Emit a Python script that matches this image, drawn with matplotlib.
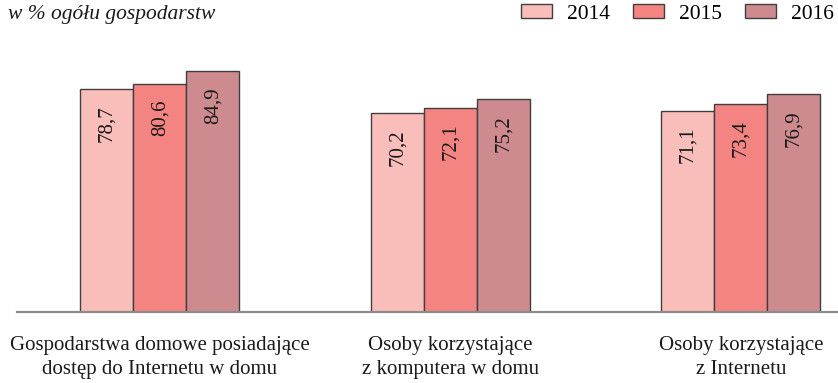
import matplotlib
matplotlib.use("Agg")
import matplotlib.pyplot as plt
import numpy as np

categories = ["Gospodarstwa domowe posiadające\ndostęp do Internetu w domu",
              "Osoby korzystające\nz komputera w domu",
              "Osoby korzystające\nz Internetu"]
years = ["2014", "2015", "2016"]
values = {
    "2014": [78.7, 70.2, 71.1],
    "2015": [80.6, 72.1, 73.4],
    "2016": [84.9, 75.2, 76.9],
}
colors = ["#F9BEB9", "#F38481", "#CD8B8F"]

plt.rcParams["font.family"] = ["Liberation Serif", "DejaVu Serif"]

fig = plt.figure(figsize=(8.38, 3.83), dpi=100)
ax = fig.add_axes([17 / 838, 71 / 383, 1 - 17 / 838, (312 - 40) / 383])

x = np.arange(len(categories))
width = 0.1825
offsets = [-width, 0, width]

for year, off, col in zip(years, offsets, colors):
    vals = values[year]
    bars = ax.bar(x + off, vals, width, color=col, edgecolor="#3f3f3f",
                  linewidth=1.0, label=year, zorder=2)
    for b, v in zip(bars, vals):
        ax.annotate(f"{v:.1f}".replace(".", ","),
                    xy=(b.get_x() + b.get_width() / 2, v),
                    xytext=(0, -11.5), textcoords="offset points",
                    rotation=90, ha="center", va="top",
                    fontsize=15, color="#1a1a1a")

ax.set_xlim(-0.492, 2.334)
ax.set_ylim(0, 96)
for s in ["top", "right", "left"]:
    ax.spines[s].set_visible(False)
ax.spines["bottom"].set_color("#8c8c8c")
ax.spines["bottom"].set_linewidth(1.6)
ax.set_yticks([])
ax.set_xticks(x)
ax.set_xticklabels(categories, fontsize=15, color="#1a1a1a", linespacing=1.3)
ax.tick_params(axis="x", length=0, pad=17.5)

fig.text(8 / 838, 1 - 14 / 383, "w % ogółu gospodarstw", fontsize=15.5,
         style="italic", va="center", ha="left", color="#1a1a1a")

ax.legend(loc="center right", bbox_to_anchor=(1.008, 1 - 14 / 383),
          bbox_transform=fig.transFigure, ncol=3, frameon=False,
          fontsize=15.5, handlelength=1.45, handleheight=0.6,
          columnspacing=1.05, handletextpad=0.7, borderaxespad=0.1)

fig.savefig("out.png", dpi=100)
